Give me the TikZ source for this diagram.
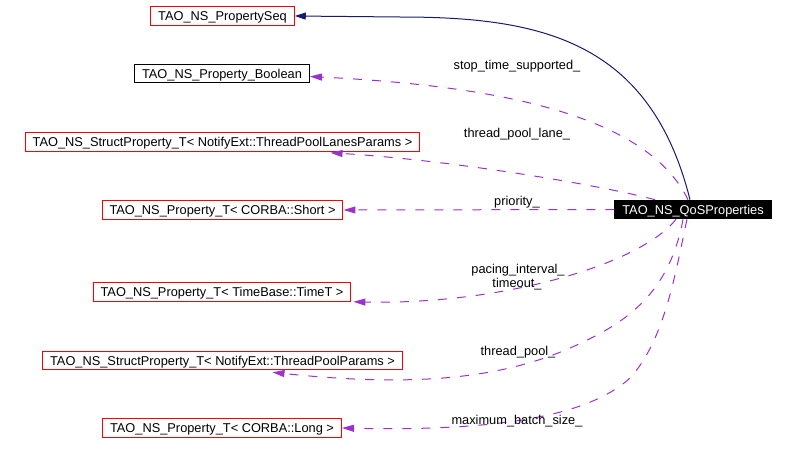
\documentclass[tikz,border=0pt]{standalone}
\usepackage{fontspec}
\setmainfont{Liberation Sans}
\usetikzlibrary{arrows.meta,calc}
\definecolor{navyc}{HTML}{191970}
\definecolor{purp}{HTML}{9A32CD}
\begin{document}
\begin{tikzpicture}[x=1pt,y=-1pt,
  every node/.style={font=\fontsize{12.8pt}{15pt}\selectfont},
  cls/.style={draw=red,line width=1pt,text height=9.2pt,text depth=0pt,inner xsep=7.5pt,inner ysep=4.7pt},
  clsblack/.style={cls,draw=black},
  clsmain/.style={cls,draw=black,fill=black,text=white},
  inh/.style={draw=navyc,line width=1pt,-{Triangle[length=11pt,width=7pt]}},
  usage/.style={draw=purp,line width=1pt,dash pattern=on 9pt off 10pt,-{Triangle[length=12pt,width=7pt]}},
  lbl/.style={anchor=base,inner sep=0pt}]
\useasboundingbox (0,0) rectangle (796,455);

\node[cls] (seq) at (222.5,16) {TAO\_NS\_PropertySeq};
\node[clsblack] (bool) at (222,73.5) {TAO\_NS\_Property\_Boolean};
\node[cls] (lanes) at (222.5,142) {TAO\_NS\_StructProperty\_T< NotifyExt::ThreadPoolLanesParams >};
\node[cls] (short) at (222.5,210) {TAO\_NS\_Property\_T< CORBA::Short >};
\node[cls] (timet) at (222,292) {TAO\_NS\_Property\_T< TimeBase::TimeT >};
\node[cls] (pool) at (222.5,360.5) {TAO\_NS\_StructProperty\_T< NotifyExt::ThreadPoolParams >};
\node[cls] (long) at (222,428) {TAO\_NS\_Property\_T< CORBA::Long >};
\node[clsmain] (qos) at (693,209.5) {TAO\_NS\_QoSProperties};

% inheritance
\draw[inh] ($(qos.north)+(-3,0)$) .. controls (650,40) and (540,17) .. (400,17) -- (seq.east);

% usage edges
\draw[usage] ($(qos.north)+(-5,0)$) .. controls (645,110) and (480,85) .. ($(bool.east)+(0,3)$);
\node[lbl] (l1) at (517,69) {stop\_time\_supported\_};

\draw[usage] ($(qos.north)+(-38,0)$) .. controls (600,185) and (450,160) .. ($(lanes.south)+(108,1)$);
\node[lbl] (l2) at (517,137.3) {thread\_pool\_lane\_};

\draw[usage] (qos.west) -- (short.east);
\node[lbl] (l3) at (517,205) {priority\_};

\draw[usage] ($(qos.south)+(-17,0)$) .. controls (640,265) and (500,305) .. ($(timet.south east)+(2,0)$);
\node[lbl] (l4) at (518,273.3) {pacing\_interval\_};
\node[lbl] (l5) at (517,287.7) {timeout\_};

\draw[usage] ($(qos.south)+(-10,0)$) .. controls (670,290) and (630,320) .. (583,342)
  .. controls (510,378) and (420,388) .. ($(pool.south)+(50,2)$);
\node[lbl] (l6) at (518,355.7) {thread\_pool\_};

\draw[usage] ($(qos.south)+(-6,0)$) .. controls (676,270) and (665,340) .. (630,378)
  .. controls (595,410) and (520,432) .. (long.east);
\node[lbl] (l7) at (517,424) {maximum\_batch\_size\_};
\end{tikzpicture}
\end{document}
